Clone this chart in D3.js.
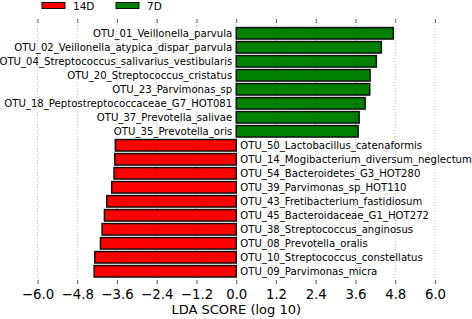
<!DOCTYPE html>
<html><head><meta charset="utf-8">
<script src="https://cdn.jsdelivr.net/npm/d3@7/dist/d3.min.js"></script>
<style>body{margin:0;background:#fff}svg{display:block;font-family:"DejaVu Sans",sans-serif}</style>
</head><body><svg id="c" width="472" height="319"></svg>
<script>
const taxa = [
 "OTU_01_Veillonella_parvula","OTU_02_Veillonella_atypica_dispar_parvula","OTU_04_Streptococcus_salivarius_vestibularis",
 "OTU_20_Streptococcus_cristatus","OTU_23_Parvimonas_sp","OTU_18_Peptostreptococcaceae_G7_HOT081",
 "OTU_37_Prevotella_salivae","OTU_35_Prevotella_oris","OTU_50_Lactobacillus_catenaformis",
 "OTU_14_Mogibacterium_diversum_neglectum","OTU_54_Bacteroidetes_G3_HOT280","OTU_39_Parvimonas_sp_HOT110",
 "OTU_43_Fretibacterium_fastidiosum","OTU_45_Bacteroidaceae_G1_HOT272","OTU_38_Streptococcus_anginosus",
 "OTU_08_Prevotella_oralis","OTU_10_Streptococcus_constellatus","OTU_09_Parvimonas_micra"];
const ldaScores = [4.74,4.38,4.23,4.04,4.03,3.89,3.71,3.68,-3.65,-3.67,-3.69,-3.76,-3.91,-3.98,-4.05,-4.10,-4.27,-4.29];
const groups = ["7D","7D","7D","7D","7D","7D","7D","7D","14D","14D","14D","14D","14D","14D","14D","14D","14D","14D"];
const legendGroups = ["14D","7D"];
const groupColors = ["#ff0000","#008000"];
const xTicks = [-6.0,-4.8,-3.6,-2.4,-1.2,0.0,1.2,2.4,3.6,4.8,6.0];

const svg = d3.select("#c");
const x = d3.scaleLinear().domain([-6,6]).range([37.5,435]);
const y = d3.scaleBand().domain(taxa).range([26.3,278.3]).paddingInner(0.18).paddingOuter(0.09);
const color = d3.scaleOrdinal().domain(legendGroups).range(groupColors);
const axTop = 19, axBot = 284;

// bars
svg.append("g").selectAll("rect").data(taxa).join("rect")
  .attr("x",(d,i)=>x(Math.min(0,ldaScores[i])))
  .attr("width",(d,i)=>Math.abs(x(ldaScores[i])-x(0)))
  .attr("y",d=>y(d)).attr("height",y.bandwidth())
  .attr("fill",(d,i)=>color(groups[i]))
  .attr("stroke","#111").attr("stroke-width",1.5);

// grid
svg.append("g").selectAll("line").data(xTicks).join("line")
  .attr("x1",d=>x(d)).attr("x2",d=>x(d)).attr("y1",axTop).attr("y2",axBot)
  .attr("stroke","#000").attr("stroke-opacity",0.28).attr("stroke-dasharray","1,2");

// axes (no domain line), inward ticks
const xb = svg.append("g").attr("transform",`translate(0,${axBot})`)
  .call(d3.axisBottom(x).tickValues(xTicks).tickSize(-4).tickPadding(6).tickFormat(d=>d3.format(".1f")(d).replace("-","\u2212")));
xb.select(".domain").remove();
xb.selectAll("line").attr("stroke","#666");
xb.selectAll("text").attr("font-size","13.3px").attr("font-family","DejaVu Sans").attr("fill","#000");
const xt = svg.append("g").attr("transform",`translate(0,${axTop})`)
  .call(d3.axisTop(x).tickValues(xTicks).tickSize(-4).tickFormat(""));
xt.select(".domain").remove();
xt.selectAll("line").attr("stroke","#666");

// labels
svg.append("g").selectAll("text").data(taxa).join("text")
  .attr("x",(d,i)=>ldaScores[i]>0 ? x(0)-4 : x(0)+4)
  .attr("y",d=>y(d)+y.bandwidth()/2).attr("dy","0.35em")
  .attr("text-anchor",(d,i)=>ldaScores[i]>0?"end":"start")
  .attr("font-size","10.15px").text(d=>d);

svg.append("text").attr("x",x(0)).attr("y",314).attr("text-anchor","middle")
  .attr("font-size","13px").text("LDA SCORE (log 10)");

// legend
const lg = svg.append("g");
legendGroups.forEach((g,i)=>{
  const lx = [42,116][i];
  lg.append("rect").attr("x",lx).attr("y",2.5).attr("width",23).attr("height",6)
    .attr("fill",color(g)).attr("stroke","#111").attr("stroke-width",1);
  lg.append("text").attr("x",lx+31).attr("y",9.5).attr("font-size","10.5px").text(g);
});
</script></body></html>
